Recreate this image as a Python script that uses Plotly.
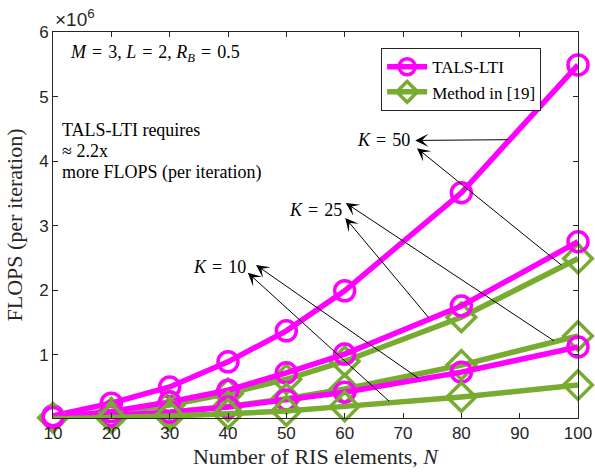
import numpy as np
import plotly.graph_objects as go

# Number of RIS elements
N = [10, 20, 30, 40, 50, 60, 80, 100]

# FLOPS per iteration (in units of 1e6)
tals_k50 = [0.055, 0.25, 0.50, 0.89, 1.37, 1.99, 3.51, 5.49]
tals_k25 = [0.028, 0.12, 0.27, 0.45, 0.72, 1.01, 1.755, 2.75]
tals_k10 = [0.011, 0.05, 0.11, 0.19, 0.30, 0.42, 0.73, 1.12]
meth_k50 = [0.025, 0.10, 0.22, 0.40, 0.62, 0.90, 1.58, 2.49]
meth_k25 = [0.012, 0.05, 0.11, 0.20, 0.32, 0.47, 0.84, 1.29]
meth_k10 = [0.005, 0.02, 0.05, 0.085, 0.13, 0.20, 0.345, 0.53]

SCALE = 1e6
MAGENTA = "#FF00FF"
GREEN = "#77AC30"
SERIF = "Liberation Serif"
SANS = "Liberation Sans"
AX = "#262626"
SP = "\u2004"  # wider space around '=' in math-style labels

fig = go.Figure()

def add_series(vals, color, symbol, size, name, show):
    fig.add_trace(go.Scatter(
        x=N, y=[v * SCALE for v in vals], mode="lines+markers",
        name=name, showlegend=show, cliponaxis=False,
        line=dict(color=color, width=5.5),
        marker=dict(symbol=symbol, size=size, color=color,
                    line=dict(color=color, width=3.5)),
    ))

add_series(tals_k50, MAGENTA, "circle-open", 20, "TALS-LTI", True)
add_series(meth_k50, GREEN, "diamond-open", 22, "Method in [19]", True)
add_series(tals_k25, MAGENTA, "circle-open", 20, "TALS-LTI", False)
add_series(meth_k25, GREEN, "diamond-open", 22, "Method in [19]", False)
add_series(tals_k10, MAGENTA, "circle-open", 20, "TALS-LTI", False)
add_series(meth_k10, GREEN, "diamond-open", 22, "Method in [19]", False)

# Arrows: (head N, head value, tail N, curve the tail sits on)
arrows = [
    (72.1, 4.32, 88.3, tals_k50),
    (72.4, 4.20, 97.4, meth_k50),
    (60.2, 3.35, 96.1, meth_k25),
    (60.1, 3.12, 74.6, tals_k25),
    (44.8, 2.39, 72.9, tals_k10),
    (43.4, 2.27, 67.9, meth_k10),
]
for hx, hy, tx, curve in arrows:
    ty = float(np.interp(tx, N, curve))
    fig.add_annotation(
        x=hx, y=hy * SCALE, ax=tx, ay=ty * SCALE,
        xref="x", yref="y", axref="x", ayref="y",
        text="", showarrow=True, arrowhead=3, arrowsize=2.2,
        arrowwidth=1, arrowcolor="black", standoff=0, startstandoff=0,
    )

# K labels
k_labels = [("50", 71.6, 4.32), ("25", 59.8, 3.25), ("10", 43.5, 2.36)]
for k, x, y in k_labels:
    fig.add_annotation(x=x, y=y * SCALE, xref="x", yref="y",
                       text=f"<i>K</i>{SP}={SP}{k}",
                       showarrow=False, xanchor="right", yanchor="middle",
                       font=dict(family=SERIF, size=18, color="black"))

fig.add_annotation(
    x=0.028, y=0.944, xref="paper", yref="paper", xanchor="left", yanchor="middle",
    text=(f"<i>M</i>{SP}={SP}3, <i>L</i>{SP}={SP}2, "
          f"<i>R</i><sub><i>B</i></sub>{SP}={SP}0.5"),
    showarrow=False, font=dict(family=SERIF, size=18, color="black"))

note_lines = ["TALS-LTI requires", "\u2248 2.2x", "more FLOPS (per iteration)"]
for i, line in enumerate(note_lines):
    fig.add_annotation(
        x=0.013, y=0.745 - i * 0.0545, xref="paper", yref="paper",
        xanchor="left", yanchor="middle", text=line, showarrow=False,
        font=dict(family=SERIF, size=18, color="black"))

fig.add_annotation(
    x=0.0, y=1.0, xref="paper", yref="paper", xanchor="left", yanchor="bottom",
    yshift=0, text="\u00d710<sup>6</sup>", showarrow=False,
    font=dict(family=SANS, size=19, color=AX))

axis_common = dict(showline=True, mirror="ticks", linecolor=AX, linewidth=1,
                   ticks="inside", ticklen=5, tickcolor=AX, showgrid=False,
                   zeroline=False, automargin=False,
                   tickfont=dict(family=SANS, size=17, color=AX))

fig.update_xaxes(range=[10, 100], tickvals=list(range(10, 101, 10)),
                 title=dict(text="Number of RIS elements, <i>N</i>",
                            font=dict(family=SERIF, size=22, color=AX), standoff=6),
                 **axis_common)
fig.update_yaxes(range=[0.02 * SCALE, 6 * SCALE],
                 tickvals=[v * SCALE for v in range(1, 7)],
                 ticktext=[str(v) for v in range(1, 7)],
                 title=dict(text="FLOPS (per iteration)",
                            font=dict(family=SERIF, size=22, color=AX), standoff=10),
                 **axis_common)

fig.update_layout(
    width=595, height=472, template="simple_white",
    paper_bgcolor="white", plot_bgcolor="white",
    margin=dict(l=53, r=17, t=32, b=54),
    legend=dict(x=0.625, y=0.958, xanchor="left", yanchor="top",
                bgcolor="white", bordercolor=AX, borderwidth=1,
                font=dict(family=SERIF, size=17, color="black"),
                tracegroupgap=0, itemwidth=40),
    showlegend=True,
)

fig.write_html("out.html")
